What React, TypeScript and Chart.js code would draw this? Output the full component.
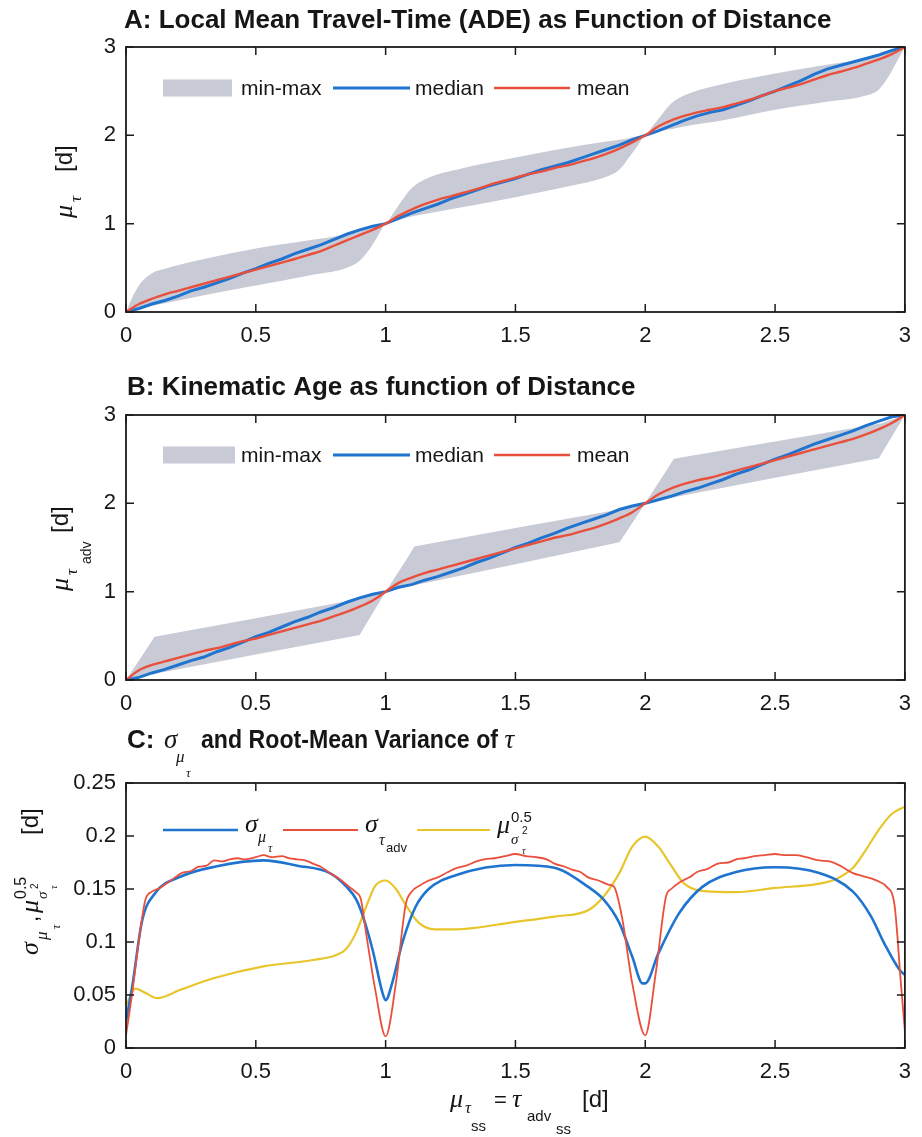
import { useEffect, useRef } from 'react';
import { Chart, registerables } from 'chart.js';

Chart.register(...registerables);

const SANS = '"Liberation Sans", Arial, Helvetica, sans-serif';
const SERIF = '"Liberation Serif", "DejaVu Serif", serif';
const INK = '#161616';
const BLUE = '#1f74d0';
const RED = '#ea4f3b';
const YELLOW = '#e8c52a';
const BAND = '#c8cad6';

// ---------- tick labels ----------
const xTicks = [0, 0.5, 1, 1.5, 2, 2.5, 3];
const xTickLabels = ['0', '0.5', '1', '1.5', '2', '2.5', '3'];
const yTicksAB = [0, 1, 2, 3];
const yTickLabelsAB = ['0', '1', '2', '3'];
const yTicksC = [0, 0.05, 0.1, 0.15, 0.2, 0.25];
const yTickLabelsC = ['0', '0.05', '0.1', '0.15', '0.2', '0.25'];

// ---------- panel A / B common distance grid ----------
const gridAB = [0, 0.05, 0.1, 0.15, 0.2, 0.25, 0.3, 0.35, 0.4, 0.45, 0.5, 0.55, 0.6, 0.65, 0.7, 0.75, 0.8, 0.85, 0.9, 0.95, 1,
  1.05, 1.1, 1.15, 1.2, 1.25, 1.3, 1.35, 1.4, 1.45, 1.5, 1.55, 1.6, 1.65, 1.7, 1.75, 1.8, 1.85, 1.9, 1.95, 2,
  2.05, 2.1, 2.15, 2.2, 2.25, 2.3, 2.35, 2.4, 2.45, 2.5, 2.55, 2.6, 2.65, 2.7, 2.75, 2.8, 2.85, 2.9, 2.95, 3];

// ---------- panel A ----------
const meanA = [0, 0.09, 0.15, 0.2, 0.24, 0.28, 0.32, 0.36, 0.4, 0.44, 0.48, 0.52, 0.56, 0.6, 0.645, 0.69, 0.75, 0.81, 0.87, 0.93, 1.0,
  1.09, 1.16, 1.22, 1.27, 1.31, 1.35, 1.39, 1.44, 1.48, 1.52, 1.56, 1.59, 1.63, 1.66, 1.7, 1.74, 1.79, 1.85, 1.92, 2.0,
  2.1, 2.17, 2.22, 2.26, 2.29, 2.32, 2.36, 2.4, 2.45, 2.5, 2.54, 2.58, 2.63, 2.68, 2.72, 2.76, 2.81, 2.86, 2.92, 3.0];
const medianA = [0, 0.04, 0.09, 0.13, 0.18, 0.24, 0.28, 0.33, 0.38, 0.44, 0.49, 0.55, 0.6, 0.66, 0.71, 0.76, 0.82, 0.88, 0.93, 0.97, 1.0,
  1.06, 1.12, 1.17, 1.22, 1.28, 1.33, 1.38, 1.43, 1.47, 1.51, 1.56, 1.61, 1.65, 1.69, 1.74, 1.79, 1.84, 1.89, 1.95, 2.0,
  2.05, 2.11, 2.17, 2.22, 2.26, 2.29, 2.34, 2.39, 2.45, 2.5, 2.56, 2.62, 2.69, 2.75, 2.79, 2.83, 2.87, 2.91, 2.96, 3.0];
const bandXA = [0, 0.03, 0.06, 0.1, 0.15, 0.3, 0.5, 0.7, 0.85, 0.9, 0.94, 0.97,
  1, 1.03, 1.06, 1.1, 1.15, 1.3, 1.5, 1.7, 1.85, 1.9, 1.94, 1.97,
  2, 2.03, 2.06, 2.1, 2.15, 2.3, 2.5, 2.7, 2.85, 2.9, 2.94, 2.97, 3];
const bandMaxA = [0, 0.2, 0.34, 0.44, 0.49, 0.6, 0.72, 0.81, 0.88, 0.92, 0.95, 0.98,
  1, 1.12, 1.25, 1.4, 1.5, 1.63, 1.75, 1.86, 1.93, 1.95, 1.97, 1.99,
  2, 2.11, 2.22, 2.36, 2.45, 2.58, 2.7, 2.8, 2.86, 2.89, 2.93, 2.965, 3];
const bandMinA = [0, 0.02, 0.04, 0.07, 0.1, 0.19, 0.3, 0.41, 0.5, 0.58, 0.72, 0.86,
  1, 1.02, 1.05, 1.08, 1.11, 1.19, 1.3, 1.42, 1.53, 1.61, 1.76, 1.88,
  2, 2.02, 2.05, 2.07, 2.1, 2.17, 2.29, 2.38, 2.45, 2.52, 2.68, 2.84, 3];

// ---------- panel B ----------
const meanB = [0, 0.11, 0.17, 0.21, 0.25, 0.29, 0.33, 0.36, 0.4, 0.44, 0.47, 0.51, 0.55, 0.59, 0.63, 0.67, 0.72, 0.77, 0.83, 0.9, 1.0,
  1.1, 1.16, 1.21, 1.25, 1.29, 1.33, 1.37, 1.41, 1.45, 1.49, 1.53, 1.57, 1.61, 1.64, 1.68, 1.72, 1.77, 1.83, 1.9, 2.0,
  2.1, 2.17, 2.22, 2.26, 2.29, 2.33, 2.37, 2.41, 2.45, 2.49, 2.53, 2.57, 2.61, 2.65, 2.69, 2.73, 2.78, 2.84, 2.91, 3.0];
const medianB = [0, 0.03, 0.08, 0.12, 0.17, 0.22, 0.26, 0.32, 0.37, 0.43, 0.49, 0.54, 0.6, 0.66, 0.71, 0.77, 0.82, 0.88, 0.93, 0.97, 1.0,
  1.05, 1.08, 1.13, 1.17, 1.22, 1.27, 1.33, 1.38, 1.44, 1.5, 1.55, 1.61, 1.66, 1.72, 1.77, 1.82, 1.87, 1.93, 1.97, 2.0,
  2.04, 2.08, 2.13, 2.17, 2.22, 2.27, 2.33, 2.38, 2.44, 2.5, 2.55, 2.61, 2.67, 2.72, 2.77, 2.82, 2.88, 2.93, 2.98, 3.0];
const bandXB = [0, 0.09, 0.11, 0.5, 0.9, 0.91, 1, 1.09, 1.11, 1.5, 1.9, 1.91, 2, 2.09, 2.11, 2.5, 2.9, 2.91, 3];
const bandMaxB = [0, 0.4, 0.49, 0.7, 0.92, 0.925, 1, 1.41, 1.51, 1.72, 1.93, 1.935, 2, 2.41, 2.505, 2.7, 2.9, 2.905, 3];
const bandMinB = [0, 0.06, 0.071, 0.29, 0.51, 0.56, 1, 1.06, 1.072, 1.31, 1.56, 1.6, 2, 2.06, 2.07, 2.29, 2.51, 2.56, 3];

// ---------- panel C ----------
const sigMuX = [0, 0.024, 0.062, 0.112, 0.214, 0.341, 0.53, 0.66, 0.785, 0.85, 0.887, 0.913, 0.95, 0.988, 1.0, 1.026, 1.064, 1.115, 1.166, 1.27,
  1.5, 1.65, 1.78, 1.84, 1.9, 1.95, 1.99, 2.0, 2.05, 2.13, 2.22, 2.35, 2.5, 2.67, 2.8, 2.87, 2.92, 2.98, 3.0];
const sigMuY = [0.025, 0.058, 0.12, 0.146, 0.162, 0.171, 0.177, 0.172, 0.165, 0.152, 0.14, 0.124, 0.0925, 0.052, 0.045, 0.062, 0.099, 0.133, 0.15, 0.163,
  0.1726, 0.17, 0.152, 0.14, 0.118, 0.086, 0.061, 0.061, 0.089, 0.127, 0.152, 0.166, 0.1705, 0.165, 0.1475, 0.124, 0.099, 0.0736, 0.069];
const sigAdvX = [0, 0.024, 0.05, 0.075, 0.1, 0.13, 0.16, 0.19, 0.214, 0.25, 0.28, 0.31, 0.34, 0.37, 0.4, 0.43, 0.46, 0.5, 0.53, 0.56,
  0.6, 0.63, 0.66, 0.69, 0.72, 0.75, 0.785, 0.82, 0.86, 0.885, 0.905, 0.925, 0.96, 1.0, 1.04, 1.077, 1.1, 1.13, 1.166, 1.2,
  1.24, 1.27, 1.31, 1.35, 1.38, 1.42, 1.46, 1.5, 1.54, 1.58, 1.62, 1.65, 1.69, 1.72, 1.75, 1.78, 1.82, 1.86, 1.88, 1.91,
  1.95, 2.0, 2.04, 2.08, 2.1, 2.13, 2.17, 2.2, 2.24, 2.28, 2.32, 2.35, 2.38, 2.42, 2.46, 2.5, 2.54, 2.58, 2.62, 2.67,
  2.71, 2.75, 2.8, 2.84, 2.87, 2.9, 2.93, 2.96, 2.985, 3.0];
const sigAdvY = [0.012, 0.052, 0.102, 0.14, 0.1475, 0.151, 0.156, 0.161, 0.165, 0.167, 0.171, 0.172, 0.177, 0.176, 0.178, 0.179, 0.178, 0.18, 0.182, 0.18,
  0.181, 0.179, 0.178, 0.177, 0.174, 0.171, 0.165, 0.16, 0.152, 0.147, 0.14, 0.108, 0.055, 0.011, 0.062, 0.135, 0.1475, 0.153, 0.158, 0.161,
  0.166, 0.1695, 0.172, 0.176, 0.178, 0.179, 0.181, 0.183, 0.181, 0.18, 0.178, 0.174, 0.171, 0.168, 0.166, 0.161, 0.158, 0.154, 0.152, 0.124,
  0.061, 0.012, 0.07, 0.143, 0.15, 0.156, 0.161, 0.166, 0.169, 0.174, 0.175, 0.178, 0.179, 0.181, 0.182, 0.183, 0.182, 0.182, 0.18, 0.177,
  0.176, 0.172, 0.165, 0.162, 0.16, 0.157, 0.152, 0.135, 0.06, 0.016];
const rmvX = [0, 0.036, 0.075, 0.12, 0.21, 0.34, 0.53, 0.72, 0.81, 0.85, 0.89, 0.93, 0.96, 1.0, 1.04, 1.077, 1.128, 1.19, 1.27,
  1.5, 1.65, 1.78, 1.84, 1.9, 1.95, 2.0, 2.05, 2.1, 2.15, 2.23, 2.35, 2.5, 2.67, 2.74, 2.8, 2.85, 2.9, 2.95, 3.0];
const rmvY = [0.04, 0.056, 0.052, 0.047, 0.055, 0.066, 0.077, 0.083, 0.0877, 0.094, 0.111, 0.1365, 0.153, 0.158, 0.15, 0.135, 0.118, 0.112, 0.112,
  0.119, 0.124, 0.13, 0.143, 0.165, 0.19, 0.1995, 0.19, 0.172, 0.155, 0.148, 0.147, 0.151, 0.155, 0.16, 0.17, 0.187, 0.206, 0.221, 0.2277];

// ---------- helpers ----------
const pts = (xs: number[], ys: number[]) => xs.map((x, i) => ({ x, y: ys[i] }));

type Seg = { t: string; f: string; x?: number; dy?: number; sx?: number };

function drawSegs(ctx: CanvasRenderingContext2D, segs: Seg[], ox: number, oy: number, rotate = false) {
  ctx.save();
  ctx.translate(ox, oy);
  if (rotate) ctx.rotate(-Math.PI / 2);
  ctx.fillStyle = INK;
  ctx.textAlign = 'left';
  ctx.textBaseline = 'alphabetic';
  let cursor = 0;
  for (const s of segs) {
    ctx.font = s.f;
    const x = s.x !== undefined ? s.x : cursor;
    const sx = s.sx || 1;
    ctx.save();
    ctx.translate(x, s.dy || 0);
    ctx.scale(sx, 1);
    ctx.fillText(s.t, 0, 0);
    ctx.restore();
    cursor = x + ctx.measureText(s.t).width * sx;
  }
  ctx.restore();
}

function hline(ctx: CanvasRenderingContext2D, x0: number, x1: number, y: number, color: string, w: number) {
  ctx.save();
  ctx.strokeStyle = color;
  ctx.lineWidth = w;
  ctx.beginPath();
  ctx.moveTo(x0, y);
  ctx.lineTo(x1, y);
  ctx.stroke();
  ctx.restore();
}

function drawFrame(chart: any, yTicks: number[]) {
  const { ctx, chartArea: a, scales } = chart;
  ctx.save();
  ctx.strokeStyle = '#1b1b1b';
  ctx.lineWidth = 1.8;
  ctx.strokeRect(a.left, a.top, a.right - a.left, a.bottom - a.top);
  ctx.lineWidth = 1.5;
  const tl = 8;
  ctx.beginPath();
  for (const v of xTicks) {
    const px = scales.x.getPixelForValue(v);
    ctx.moveTo(px, a.bottom); ctx.lineTo(px, a.bottom - tl);
    ctx.moveTo(px, a.top); ctx.lineTo(px, a.top + tl);
  }
  for (const v of yTicks) {
    const py = scales.y.getPixelForValue(v);
    ctx.moveTo(a.left, py); ctx.lineTo(a.left + tl, py);
    ctx.moveTo(a.right, py); ctx.lineTo(a.right - tl, py);
  }
  ctx.stroke();
  ctx.restore();
}

function legendAB(ctx: CanvasRenderingContext2D, y: number, boxRight: number) {
  ctx.save();
  ctx.fillStyle = BAND;
  ctx.fillRect(163, y - 8.5, boxRight - 163, 17);
  ctx.restore();
  const f = `21px ${SANS}`;
  drawSegs(ctx, [{ t: 'min-max', f, x: 0 }], 241, y + 7);
  hline(ctx, 333, 410, y, BLUE, 3);
  drawSegs(ctx, [{ t: 'median', f, x: 0 }], 415, y + 7);
  hline(ctx, 494, 570, y, RED, 2.6);
  drawSegs(ctx, [{ t: 'mean', f, x: 0 }], 577, y + 7);
}

const TITLE = `bold 26px ${SANS}`;
const GR = (px: number) => `italic ${px}px ${SERIF}`;
const SN = (px: number) => `${px}px ${SANS}`;

function baseOptions(areaTop: number, areaBottom: number, height: number, yMax: number, yTicks: number[], yLabels: string[]) {
  return {
    responsive: false,
    animation: false as const,
    devicePixelRatio: 1,
    events: [],
    layout: { padding: { top: areaTop, right: 10, left: 0, bottom: 0 } },
    plugins: { legend: { display: false }, tooltip: { enabled: false }, title: { display: false } },
    scales: {
      x: {
        type: 'linear' as const, min: 0, max: 3, position: 'bottom' as const,
        afterFit: (s: any) => { s.height = height - areaBottom; },
        afterBuildTicks: (s: any) => { s.ticks = xTicks.map((v) => ({ value: v })); },
        ticks: {
          callback: (_v: any, i: number) => xTickLabels[i],
          font: { family: SANS, size: 22 }, color: INK, padding: 11, maxRotation: 0, autoSkip: false,
        },
        grid: { display: false, drawTicks: false }, border: { display: false },
      },
      y: {
        type: 'linear' as const, min: 0, max: yMax,
        afterFit: (s: any) => { s.width = 126; },
        afterBuildTicks: (s: any) => { s.ticks = yTicks.map((v) => ({ value: v })); },
        ticks: {
          callback: (_v: any, i: number) => yLabels[i],
          font: { family: SANS, size: 22 }, color: INK, padding: 10, autoSkip: false,
        },
        grid: { display: false, drawTicks: false }, border: { display: false },
      },
    },
  };
}

function bandSets(bx: number[], lo: number[], hi: number[], smooth: boolean) {
  const common = { pointRadius: 0, borderWidth: 0, borderColor: 'rgba(0,0,0,0)', cubicInterpolationMode: smooth ? 'monotone' : 'default', tension: 0 };
  return [
    { ...common, data: pts(bx, lo), fill: false, order: 4 },
    { ...common, data: pts(bx, hi), fill: '-1', backgroundColor: BAND, order: 3 },
  ];
}

function lineSet(xs: number[], ys: number[], color: string, w: number, order: number, smooth: boolean) {
  return {
    data: pts(xs, ys), borderColor: color, borderWidth: w, pointRadius: 0, fill: false, order,
    cubicInterpolationMode: smooth ? 'monotone' : 'default', tension: 0,
  };
}

// ---------- configs ----------
const H_A = 350, H_B = 370, H_C = 417;

function configA() {
  return {
    type: 'line',
    data: {
      datasets: [
        lineSet(gridAB, meanA, RED, 2.4, 1, true),
        lineSet(gridAB, medianA, BLUE, 3, 2, false),
        ...bandSets(bandXA, bandMinA, bandMaxA, true),
      ],
    },
    options: baseOptions(47, 312, H_A, 3, yTicksAB, yTickLabelsAB),
    plugins: [{
      id: 'decorA',
      afterDraw(chart: any) {
        const ctx = chart.ctx;
        drawFrame(chart, yTicksAB);
        legendAB(ctx, 88, 232);
        drawSegs(ctx, [{ t: 'A: Local Mean Travel-Time (ADE) as Function of Distance', f: TITLE, x: 0 }], 124, 28);
        drawSegs(ctx, [
          { t: 'μ', f: GR(26), x: 0 },
          { t: 'τ', f: GR(17), x: 16, dy: 9 },
          { t: '[d]', f: SN(24), x: 46 },
        ], 72, 218, true);
      },
    }],
  };
}

function configB() {
  return {
    type: 'line',
    data: {
      datasets: [
        lineSet(gridAB, meanB, RED, 2.4, 1, true),
        lineSet(gridAB, medianB, BLUE, 3, 2, false),
        ...bandSets(bandXB, bandMinB, bandMaxB, false),
      ],
    },
    options: baseOptions(65, 330, H_B, 3, yTicksAB, yTickLabelsAB),
    plugins: [{
      id: 'decorB',
      afterDraw(chart: any) {
        const ctx = chart.ctx;
        drawFrame(chart, yTicksAB);
        legendAB(ctx, 105, 235);
        drawSegs(ctx, [{ t: 'B: Kinematic Age as function of Distance', f: TITLE, x: 0 }], 127, 45);
        drawSegs(ctx, [
          { t: 'μ', f: GR(26), x: 0 },
          { t: 'τ', f: GR(17), x: 16, dy: 9 },
          { t: 'adv', f: SN(14), x: 27, dy: 23 },
          { t: '[d]', f: SN(24), x: 58 },
        ], 68, 241, true);
      },
    }],
  };
}

function configC() {
  return {
    type: 'line',
    data: {
      datasets: [
        lineSet(sigMuX, sigMuY, BLUE, 2.6, 2, true),
        lineSet(sigAdvX, sigAdvY, RED, 1.8, 1, true),
        lineSet(rmvX, rmvY, YELLOW, 2.2, 3, true),
      ],
    },
    options: baseOptions(63, 328, H_C, 0.25, yTicksC, yTickLabelsC),
    plugins: [{
      id: 'decorC',
      afterDraw(chart: any) {
        const ctx = chart.ctx;
        drawFrame(chart, yTicksC);
        // legend
        hline(ctx, 163, 238, 110, BLUE, 2.6);
        drawSegs(ctx, [
          { t: 'σ', f: GR(26), x: 0 },
          { t: 'μ', f: GR(16), x: 13, dy: 10 },
          { t: 'τ', f: GR(12), x: 23, dy: 20 },
        ], 245, 112);
        hline(ctx, 283, 358, 110, RED, 1.8);
        drawSegs(ctx, [
          { t: 'σ', f: GR(26), x: 0 },
          { t: 'τ', f: GR(16), x: 14, dy: 13 },
          { t: 'adv', f: SN(13), x: 21, dy: 20 },
        ], 365, 112);
        hline(ctx, 417, 490, 110, YELLOW, 2.2);
        drawSegs(ctx, [
          { t: 'μ', f: GR(26), x: 0 },
          { t: '0.5', f: SN(15), x: 14, dy: -11 },
          { t: 'σ', f: GR(15), x: 14, dy: 11 },
          { t: '2', f: SN(10), x: 25, dy: 1 },
          { t: 'τ', f: GR(10), x: 25, dy: 21 },
        ], 497, 113);
        // title
        drawSegs(ctx, [
          { t: 'C: ', f: TITLE, x: 0 },
          { t: 'σ', f: GR(27), x: 37 },
          { t: 'μ', f: GR(17), x: 49, dy: 14 },
          { t: 'τ', f: GR(13), x: 59, dy: 29 },
          { t: 'and Root-Mean Variance of ', f: TITLE, x: 74, sx: 0.89 },
          { t: 'τ', f: GR(27) },
        ], 127, 28);
        // y label
        drawSegs(ctx, [
          { t: 'σ', f: GR(26), x: 0 },
          { t: 'μ', f: GR(17), x: 15, dy: 9 },
          { t: 'τ', f: GR(12), x: 26, dy: 22 },
          { t: ',', f: SN(22), x: 33 },
          { t: 'μ', f: GR(26), x: 42 },
          { t: '0.5', f: SN(16), x: 56, dy: -12 },
          { t: 'σ', f: GR(15), x: 56, dy: 9 },
          { t: '2', f: SN(10), x: 66, dy: 0 },
          { t: 'τ', f: GR(10), x: 66, dy: 19 },
          { t: '[d]', f: SN(24), x: 120 },
        ], 38, 235, true);
        // x label
        drawSegs(ctx, [
          { t: 'μ', f: GR(26), x: 0 },
          { t: 'τ', f: GR(17), x: 15, dy: 6 },
          { t: 'ss', f: SN(15), x: 21, dy: 24 },
          { t: '=', f: SN(22), x: 44 },
          { t: 'τ', f: GR(26), x: 62 },
          { t: 'adv', f: SN(15), x: 77, dy: 14 },
          { t: 'ss', f: SN(15), x: 106, dy: 27 },
          { t: '[d]', f: SN(24), x: 132 },
        ], 450, 387);
      },
    }],
  };
}

function Panel({ top, height, build }: { top: number; height: number; build: () => any }) {
  const ref = useRef<HTMLCanvasElement>(null);
  useEffect(() => {
    if (!ref.current) return;
    const chart = new Chart(ref.current, build());
    return () => chart.destroy();
  }, [build]);
  return (
    <canvas
      ref={ref}
      width={922}
      height={height}
      style={{ position: 'absolute', left: 0, top, width: 922, height, display: 'block' }}
    />
  );
}

export default function App() {
  return (
    <div style={{ position: 'absolute', left: 0, top: 0, width: 922, height: 1137, background: '#fff', overflow: 'hidden' }}>
      <Panel top={0} height={H_A} build={configA} />
      <Panel top={350} height={H_B} build={configB} />
      <Panel top={720} height={H_C} build={configC} />
    </div>
  );
}
